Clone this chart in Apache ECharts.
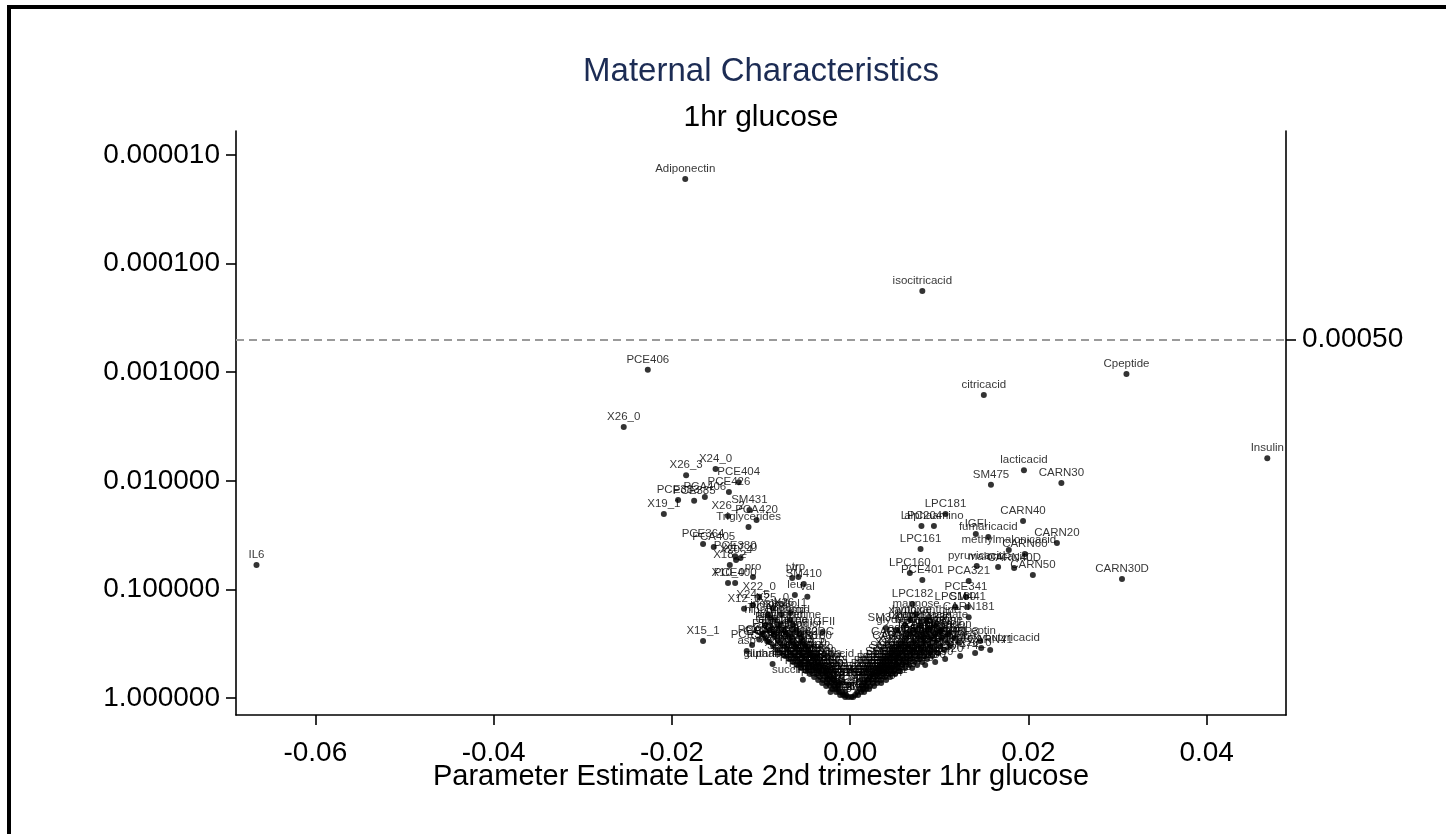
<!DOCTYPE html>
<html><head><meta charset="utf-8">
<script src="https://cdn.jsdelivr.net/npm/echarts@6/dist/echarts.min.js"></script>
<style>html,body{margin:0;padding:0;background:#fff;}#c{width:1446px;height:834px;}</style>
</head><body><div id="c"></div>
<script>
const FONT = '"Liberation Sans", Arial, Helvetica, sans-serif';
const titleText = 'Maternal Characteristics';
const subtitleText = '1hr glucose';
const xAxisTitle = 'Parameter Estimate Late 2nd trimester 1hr glucose';
const xTicks = [-0.06, -0.04, -0.02, 0, 0.02, 0.04];
const yTicksP = [0.00001, 0.0001, 0.001, 0.01, 0.1, 1];
const threshold = 0.0005;

// Labelled / outlying metabolites
const labeledNames = ["Adiponectin","isocitricacid","PCE406","Cpeptide","citricacid","X26_0","Insulin","lacticacid","X24_0","X26_3",
"CARN30","SM475","PCE404","PCE426","PCE383","PCE385","PCA406","SM431","X19_1","X26_2",
"PCA420","Triglycerides","LPC181","CARN40","LPC204","alphaamino","IGFI","fumaricacid","CARN20","PCE364",
"PCA405","LPC161","methylmalonicacid","CARN60","PCE380","X17_0","X20_4","X18_2","IL6","pyruvicacid",
"malonicacid","CARN40D","LPC160","CARN50","X10_0","PCE400","pro","tyr","trp","SM410",
"leu","val","CARN30D","PCE401","PCA321","X22_0","X24_5","X12_0","X25_0","X26_1",
"PCA388","LPC182","PCE341","LPC180","SM441","CARN181","CARN81","SM340","PCA330","Leptin",
"betahydroxybutyricacid","CARN12","IGFII","X15_1","asp","alphaketoglutaricacid","succinicacid","C4","glutaricacid","PCE362",
"PCA363","PCA384"];
const labeledEst = [-0.0185,0.0081,-0.0227,0.0310,0.0150,-0.0254,0.0468,0.0195,-0.0151,-0.0184,
0.0237,0.0158,-0.0125,-0.0136,-0.0193,-0.0175,-0.0163,-0.0113,-0.0209,-0.0137,
-0.0105,-0.0114,0.0107,0.0194,0.0080,0.0094,0.0141,0.0155,0.0232,-0.0165,
-0.0153,0.0079,0.0178,0.0196,-0.0129,-0.0123,-0.0128,-0.0135,-0.0666,0.0142,
0.0166,0.0184,0.0067,0.0205,-0.0137,-0.0129,-0.0109,-0.0065,-0.0058,-0.0052,
-0.0062,-0.0048,0.0305,0.0081,0.0133,-0.0102,-0.0109,-0.0119,-0.0087,-0.0067,
-0.0090,0.0070,0.0130,0.0118,0.0132,0.0133,0.0101,0.0040,0.0090,0.0146,
0.0147,0.0082,-0.0031,-0.0165,-0.0116,-0.0056,-0.0053,-0.0022,-0.0087,-0.0110,
-0.0093,-0.0102];
const labeledP = [0.0000166,0.000179,0.00095,0.00104,0.00162,0.0032,0.0062,0.0080,0.0078,0.0089,
0.0105,0.0109,0.0103,0.0127,0.0150,0.0153,0.0141,0.0186,0.0202,0.0211,
0.0230,0.0266,0.0202,0.0235,0.0261,0.0261,0.0309,0.0329,0.0374,0.0382,
0.0407,0.0425,0.0434,0.0472,0.0495,0.0514,0.0536,0.0596,0.0596,0.0609,
0.0622,0.0636,0.0706,0.0737,0.0873,0.0873,0.0769,0.0786,0.0769,0.0892,
0.1127,0.117,0.0802,0.0819,0.0837,0.117,0.139,0.151,0.148,0.165,
0.183,0.136,0.117,0.145,0.145,0.180,0.247,0.227,0.227,0.299,
0.347,0.280,0.247,0.299,0.369,0.486,0.68,0.88,0.486,0.325,
0.30,0.29];

// Dense central cluster: p-value of each row and estimates of the points in that row
const clusterP = [0.98,0.938,0.881,0.826,0.775,0.727,0.683,0.641,0.601,0.564,0.529,0.497,0.466,0.438,0.411,0.385,0.361,0.332,0.305,0.280,0.257,0.236,0.213,0.191,0.169];
const clusterEst = [
[-0.00056,-0.00022,0.00011,0.00034],
[-0.00112,-0.00079,-0.00045,0.00056,0.0009],
[-0.00157,-0.00123,-0.0009,-0.00056,0.00079,0.00123,0.00157],
[-0.00202,-0.00168,-0.00135,0.00112,0.00146,0.0018,0.00213],
[-0.00269,-0.00224,-0.0018,-0.00135,0.00135,0.0018,0.00224,0.00269],
[-0.00314,-0.00258,-0.00213,-0.00157,0.00157,0.00202,0.00258,0.00303,0.00348],
[-0.00359,-0.00303,-0.00247,-0.00191,0.00191,0.00236,0.00292,0.00348,0.00404],
[-0.00404,-0.00337,-0.00269,-0.00213,0.00224,0.0028,0.00337,0.00393,0.00449],
[-0.00449,-0.00381,-0.00314,-0.00247,0.00247,0.00314,0.00381,0.00449,0.00505],
[-0.00494,-0.00426,-0.00348,-0.00269,0.0028,0.00348,0.00415,0.00494,0.00561],
[-0.0055,-0.00471,-0.00393,-0.00303,0.00314,0.00381,0.0046,0.00539,0.00617,0.00696],
[-0.00595,-0.00505,-0.00426,-0.00337,0.00337,0.00415,0.00505,0.00583,0.00662,0.00752,0.00842],
[-0.0064,-0.0055,-0.00449,-0.00359,0.0037,0.00449,0.00539,0.00628,0.00718,0.00808,0.00954],
[-0.00684,-0.00595,-0.00494,-0.00393,0.00404,0.00494,0.00583,0.00673,0.00774,0.00864,0.01066],
[-0.00729,-0.00628,-0.00527,-0.00426,0.00426,0.00527,0.00628,0.00729,0.0083,0.0092,0.01234],
[-0.00774,-0.00673,-0.00561,-0.00449,0.0046,0.00561,0.00673,0.00774,0.00886,0.00987,0.01402],
[-0.00819,-0.00707,-0.00595,-0.00471,0.00494,0.00606,0.00718,0.0083,0.00942,0.01055,0.01571],
[-0.00864,-0.0074,-0.00617,-0.00494,0.00539,0.00651,0.00774,0.00898,0.0101,0.01122],
[-0.00909,-0.00785,-0.00651,-0.00527,0.00583,0.00707,0.0083,0.00965,0.01088,0.01212],
[-0.00954,-0.00819,-0.00684,-0.0055,0.00628,0.00763,0.00898,0.01032,0.01167],
[-0.00987,-0.00853,-0.00718,-0.00572,0.00673,0.00808,0.00954,0.011],
[-0.00898,-0.00752,-0.00606,0.00516,0.00718,0.00864,0.01021],
[-0.00954,-0.00797,-0.0064,0.00617,0.00785,0.00954],
[-0.00842,-0.00673,0.00673,0.00853],
[-0.0092,-0.00774,0.0074]
];
const clusterNames = [
"C2","C3","C4OH","gly","ala","ser","thr","ile","met","phe",
"his","lys","arg","orn","cit","glu","gln","asn","C5","C6",
"C8","C10","C12","C14","C16","C18","C181","C182","C5DC","C6DC",
"PCA300","PCA301","PCA320","PCA322","PCA323","PCA340","PCA341","PCA342","PCA343","PCA344",
"PCA360","PCA361","PCA362","PCA364b","PCA364","PCA365","PCA366","PCA380","PCA381","PCA382",
"PCA383","PCA385","PCA385b","PCA386","PCA400","PCA401","PCA402","PCA403","PCA404","PCA422",
"PCE300","PCE301","PCE320","PCE321","PCE340","PCE342","PCE343","PCE360","PCE361","PCE362b",
"PCE363","PCE365","PCE366","PCE381","PCE382","PCE384","PCE386","PCE402","PCE403","PCE405",
"PCE420","PCE421","PCE422","PCE423","PCE424","PCE425","PCE440","PCE441","PCE442","PCE443",
"LPC140","LPC141","LPC162","LPC170","LPC171","LPC183","LPC200","LPC201","LPC202","LPC203",
"SM300","SM310","SM320","SM330","SM331","SM341","SM342","SM350","SM360","SM361",
"SM362","SM370","SM380","SM381","SM390","SM400","SM401","SM411","SM420","SM421",
"SM430","SM440","SM442","SM450","SM460","SM470","SM471","SM472","SM473","SM474",
"X12_1","X14_0","X14_1","X15_0","X16_0","X16_1","X17_1","X18_0","X18_1","X18_3",
"X20_0","X20_1","X20_2","X20_3","X20_5","X22_1","X22_4","X22_5","X22_6","X24_1",
"CARN10","CARN41","CARN51","CARN70","CARN80","CARN100","CARN101","CARN120","CARN121","CARN140",
"CARN141","CARN160","CARN161","CARN180","CARN182","CARN40DC","CARN60DC","CARN50D","CARN70D","CARN80D",
"IGFBP1","IGFBP3","CRP","TNFa","IL8","IL1b","adipsin","resistin","visfatin","HbA1c",
"TSH","FT4","SHBG","cortisol","estradiol","hCG","PAPPA","ghrelin","glucagon","GLP1",
"creatinine","urea","glycerol","betaine","choline","carnitine","tau","malicacid","kynurenine","hcy",
"oxoglutarate","acetoacetate","hippuricacid","uricacid","xanthine","hypoxanthine","inositol","sorbitol","mannose","fructose"
];

const points = [];
labeledNames.forEach((n, i) => {
  points.push({ name: n, value: [labeledEst[i], -Math.log10(labeledP[i])] });
});
let k = 0;
clusterP.forEach((p, r) => {
  clusterEst[r].forEach(e => {
    points.push({ name: (clusterNames[k] || '').replace(/b$/, ''), value: [e, -Math.log10(p)] });
    k++;
  });
});

const yMin = -0.1565, yMax = 5.221;
const axisLineStyle = { color: '#000', width: 1.6 };
const chart = echarts.init(document.getElementById('c'), null, { renderer: 'canvas' });
chart.setOption({
  animation: false,
  backgroundColor: '#fff',
  title: [
    { text: titleText, left: 761, top: 55, textAlign: 'center', padding: 0,
      textStyle: { fontFamily: FONT, fontSize: 33, fontWeight: 'normal', color: '#1c2c54' } },
    { text: subtitleText, left: 761, top: 103, textAlign: 'center', padding: 0,
      textStyle: { fontFamily: FONT, fontSize: 30, fontWeight: 'normal', color: '#000' } }
  ],
  grid: { left: 236, right: 160, top: 131, bottom: 119 },
  xAxis: {
    type: 'value', min: -0.0689, max: 0.0489,
    name: xAxisTitle, nameLocation: 'middle', nameGap: 47, nameMoveOverlap: false,
    nameTextStyle: { fontFamily: FONT, fontSize: 29, color: '#000' },
    axisLine: { show: true, onZero: false, lineStyle: axisLineStyle },
    axisTick: { show: true, length: 10, customValues: xTicks, lineStyle: axisLineStyle },
    axisLabel: { customValues: xTicks, formatter: v => v.toFixed(2), margin: 24,
      fontFamily: FONT, fontSize: 28, color: '#000' },
    splitLine: { show: false }
  },
  yAxis: [
    {
      type: 'value', min: yMin, max: yMax, position: 'left',
      axisLine: { show: true, onZero: false, lineStyle: axisLineStyle },
      axisTick: { show: true, length: 10, customValues: yTicksP.map(p => -Math.log10(p)), lineStyle: axisLineStyle },
      axisLabel: { customValues: yTicksP.map(p => -Math.log10(p)), formatter: v => Math.pow(10, -v).toFixed(6),
        margin: 16, fontFamily: FONT, fontSize: 28, color: '#000' },
      splitLine: { show: false }
    },
    {
      type: 'value', min: yMin, max: yMax, position: 'right',
      axisLine: { show: true, onZero: false, lineStyle: axisLineStyle },
      axisTick: { show: true, length: 10, customValues: [-Math.log10(threshold)], lineStyle: axisLineStyle },
      axisLabel: { customValues: [-Math.log10(threshold)], formatter: () => threshold.toFixed(5),
        margin: 16, fontFamily: FONT, fontSize: 28, color: '#000' },
      splitLine: { show: false }
    }
  ],
  series: [{
    type: 'scatter', data: points, symbolSize: 6,
    itemStyle: { color: '#000' },
    label: { show: true, position: 'top', distance: 1, formatter: '{b}',
      fontFamily: FONT, fontSize: 11.5, color: '#000' },
    markLine: {
      silent: true, symbol: 'none', label: { show: false },
      lineStyle: { color: '#9a9a9a', type: [8, 5], width: 2 },
      data: [{ yAxis: -Math.log10(threshold) }]
    }
  }],
  graphic: [
    { type: 'rect', shape: { x: 7, y: 5, width: 1439, height: 4 }, style: { fill: '#000' }, silent: true },
    { type: 'rect', shape: { x: 7, y: 5, width: 4, height: 829 }, style: { fill: '#000' }, silent: true }
  ]
});
</script>
</body></html>
